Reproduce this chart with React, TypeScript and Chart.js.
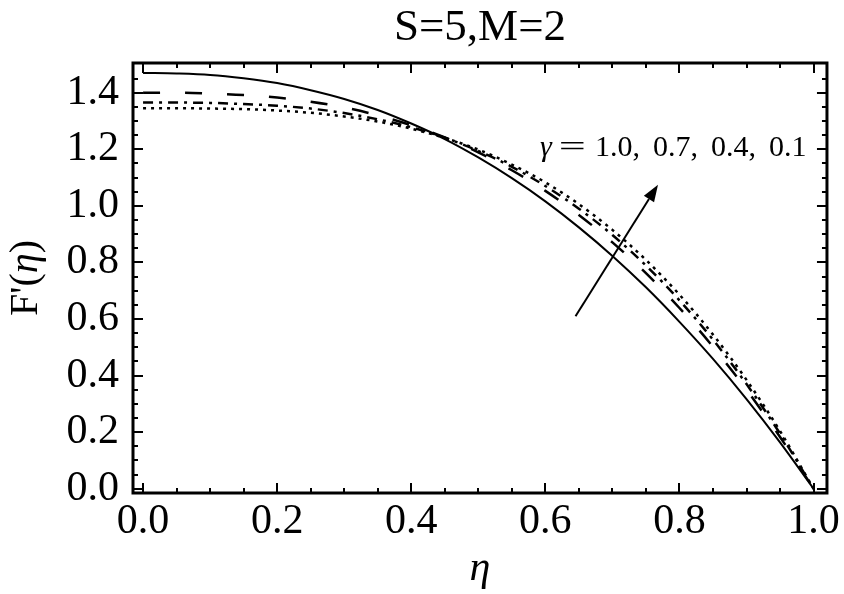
import React, { useEffect, useRef } from 'react';
import { Chart, registerables } from 'chart.js';

Chart.register(...registerables);

// ---- data ----
const eta = [0, 0.05, 0.1, 0.15, 0.2, 0.25, 0.3, 0.35, 0.4, 0.45, 0.5, 0.55, 0.6, 0.65, 0.7, 0.75, 0.8, 0.85, 0.9, 0.95, 1.0];
const fGamma10 = [1.47, 1.468, 1.463, 1.451, 1.434, 1.409, 1.378, 1.339, 1.291, 1.236, 1.171, 1.098, 1.016, 0.924, 0.823, 0.712, 0.59, 0.459, 0.317, 0.164, 0];
const fGamma07 = [1.40, 1.40, 1.397, 1.392, 1.383, 1.368, 1.348, 1.32, 1.285, 1.242, 1.189, 1.126, 1.053, 0.968, 0.871, 0.762, 0.639, 0.502, 0.35, 0.183, 0];
const fGamma04 = [1.365, 1.365, 1.364, 1.36, 1.354, 1.344, 1.328, 1.306, 1.278, 1.241, 1.194, 1.138, 1.07, 0.99, 0.897, 0.789, 0.666, 0.527, 0.37, 0.195, 0];
const fGamma01 = [1.345, 1.345, 1.344, 1.342, 1.337, 1.329, 1.316, 1.298, 1.273, 1.24, 1.199, 1.146, 1.083, 1.006, 0.915, 0.809, 0.686, 0.545, 0.385, 0.204, 0];

const xTickValues = [0, 0.2, 0.4, 0.6, 0.8, 1.0];
const xTickLabels = ['0.0', '0.2', '0.4', '0.6', '0.8', '1.0'];
const xMinorTicks = [0.05, 0.1, 0.15, 0.25, 0.3, 0.35, 0.45, 0.5, 0.55, 0.65, 0.7, 0.75, 0.85, 0.9, 0.95];
const yTickValues = [0, 0.2, 0.4, 0.6, 0.8, 1.0, 1.2, 1.4];
const yTickLabels = ['0.0', '0.2', '0.4', '0.6', '0.8', '1.0', '1.2', '1.4'];
const yMinorTicks = [0.05, 0.1, 0.15, 0.25, 0.3, 0.35, 0.45, 0.5, 0.55, 0.65, 0.7, 0.75, 0.85, 0.9, 0.95, 1.05, 1.1, 1.15, 1.25, 1.3, 1.35, 1.45];

const titleText = 'S=5,M=2';
const xTitle = 'η';
const yTitleParts = ["F'(", 'η', ')'];
const gammaSymbol = 'γ';
const gammaValues = ['1.0,', '0.7,', '0.4,', '0.1'];
const arrowStart = { x: 0.645, y: 0.61 };
const arrowEnd = { x: 0.768, y: 1.075 };
const gammaLabelAnchor = { x: 0.592, y: 1.175 };

const SERIF = '"Liberation Serif", "DejaVu Serif", serif';

const decorPlugin = {
  id: 'decor',
  afterDraw(chart: any) {
    const { ctx, chartArea } = chart;
    const xs = chart.scales.x;
    const ys = chart.scales.y;
    const { left, right, top, bottom } = chartArea;
    ctx.save();
    ctx.strokeStyle = '#000';
    ctx.fillStyle = '#000';
    ctx.lineCap = 'butt';

    // inward ticks on all four sides
    const majorLen = 10;
    const minorLen = 5;
    ctx.lineWidth = 2;
    const xTick = (v: number, len: number) => {
      const p = Math.round(xs.getPixelForValue(v));
      ctx.beginPath();
      ctx.moveTo(p, bottom);
      ctx.lineTo(p, bottom - len);
      ctx.moveTo(p, top);
      ctx.lineTo(p, top + len);
      ctx.stroke();
    };
    const yTick = (v: number, len: number) => {
      const p = Math.round(ys.getPixelForValue(v));
      ctx.beginPath();
      ctx.moveTo(left, p);
      ctx.lineTo(left + len, p);
      ctx.moveTo(right, p);
      ctx.lineTo(right - len, p);
      ctx.stroke();
    };
    xTickValues.forEach((v) => xTick(v, majorLen));
    xMinorTicks.forEach((v) => xTick(v, minorLen));
    yTickValues.forEach((v) => yTick(v, majorLen));
    yMinorTicks.forEach((v) => yTick(v, minorLen));

    // frame
    ctx.lineWidth = 3;
    ctx.strokeRect(left, top, right - left, bottom - top);

    // arrow
    const ax0 = xs.getPixelForValue(arrowStart.x);
    const ay0 = ys.getPixelForValue(arrowStart.y);
    const ax1 = xs.getPixelForValue(arrowEnd.x);
    const ay1 = ys.getPixelForValue(arrowEnd.y);
    const ang = Math.atan2(ay1 - ay0, ax1 - ax0);
    const headLen = 17;
    const headW = 6;
    const bx = ax1 - headLen * Math.cos(ang);
    const by = ay1 - headLen * Math.sin(ang);
    ctx.lineWidth = 2;
    ctx.beginPath();
    ctx.moveTo(ax0, ay0);
    ctx.lineTo(bx, by);
    ctx.stroke();
    ctx.beginPath();
    ctx.moveTo(ax1, ay1);
    ctx.lineTo(bx + headW * Math.sin(ang), by - headW * Math.cos(ang));
    ctx.lineTo(bx - headW * Math.sin(ang), by + headW * Math.cos(ang));
    ctx.closePath();
    ctx.fill();

    // gamma label
    let gx = xs.getPixelForValue(gammaLabelAnchor.x);
    const gy = ys.getPixelForValue(gammaLabelAnchor.y);
    ctx.textBaseline = 'alphabetic';
    ctx.textAlign = 'left';
    ctx.font = `italic 30px ${SERIF}`;
    ctx.fillText(gammaSymbol, gx, gy);
    gx += ctx.measureText(gammaSymbol).width + 7;
    ctx.font = `30px ${SERIF}`;
    ctx.save();
    ctx.translate(gx, gy);
    ctx.scale(1.6, 1);
    ctx.fillText('=', 0, 0);
    ctx.restore();
    gx += ctx.measureText('=').width * 1.6 + 9;
    gammaValues.forEach((s) => {
      ctx.fillText(s, gx, gy);
      gx += ctx.measureText(s).width + 13;
    });

    // y-axis title with italic eta
    ctx.save();
    ctx.translate(26, (top + bottom) / 2);
    ctx.rotate(-Math.PI / 2);
    ctx.textBaseline = 'middle';
    const fonts = [`40px ${SERIF}`, `italic 40px ${SERIF}`, `40px ${SERIF}`];
    let total = 0;
    yTitleParts.forEach((p, i) => { ctx.font = fonts[i]; total += ctx.measureText(p).width; });
    let tx = -total / 2;
    yTitleParts.forEach((p, i) => {
      ctx.font = fonts[i];
      ctx.fillText(p, tx, 0);
      tx += ctx.measureText(p).width;
    });
    ctx.restore();

    // title
    ctx.font = `45px ${SERIF}`;
    ctx.textAlign = 'center';
    ctx.textBaseline = 'alphabetic';
    ctx.fillText(titleText, (left + right) / 2, 40);
    ctx.restore();
  },
};

export default function App() {
  const ref = useRef<HTMLCanvasElement | null>(null);
  useEffect(() => {
    if (!ref.current) return;
    const mk = (data: number[]) => eta.map((x, i) => ({ x, y: data[i] }));
    const chart = new Chart(ref.current, {
      type: 'line',
      data: {
        datasets: [
          { label: 'γ=1.0', data: mk(fGamma10), borderColor: '#000', borderWidth: 2, pointRadius: 0, cubicInterpolationMode: 'monotone' },
          { label: 'γ=0.7', data: mk(fGamma07), borderColor: '#000', borderWidth: 2.5, borderDash: [17, 25], pointRadius: 0, cubicInterpolationMode: 'monotone' },
          { label: 'γ=0.4', data: mk(fGamma04), borderColor: '#000', borderWidth: 2.5, borderDash: [10, 6, 3, 6], pointRadius: 0, cubicInterpolationMode: 'monotone' },
          { label: 'γ=0.1', data: mk(fGamma01), borderColor: '#000', borderWidth: 2.5, borderDash: [3, 5], pointRadius: 0, cubicInterpolationMode: 'monotone' },
        ],
      },
      options: {
        animation: false,
        responsive: false,
        layout: { padding: { top: 63, right: 10, left: 0, bottom: 0 } },
        plugins: { legend: { display: false }, title: { display: false }, tooltip: { enabled: false } },
        scales: {
          x: {
            type: 'linear',
            min: -0.015,
            max: 1.02,
            grid: { display: false, drawTicks: false },
            border: { display: false },
            afterBuildTicks: (s: any) => { s.ticks = xTickValues.map((v) => ({ value: v })); },
            afterFit: (s: any) => { s.height = 101; },
            ticks: {
              color: '#000',
              padding: 4,
              autoSkip: false,
              maxRotation: 0,
              font: { family: SERIF, size: 42 },
              callback: (_v: any, i: number) => xTickLabels[i],
            },
            title: { display: true, text: xTitle, color: '#000', padding: 0, font: { family: SERIF, size: 42, style: 'italic' } },
          },
          y: {
            type: 'linear',
            min: -0.015,
            max: 1.505,
            grid: { display: false, drawTicks: false },
            border: { display: false },
            afterBuildTicks: (s: any) => { s.ticks = yTickValues.map((v) => ({ value: v })); },
            afterFit: (s: any) => { s.width = 133; },
            ticks: {
              color: '#000',
              padding: 14,
              autoSkip: false,
              font: { family: SERIF, size: 42 },
              callback: (_v: any, i: number) => yTickLabels[i],
            },
            title: { display: false },
          },
        },
      },
      plugins: [decorPlugin],
    } as any);
    return () => chart.destroy();
  }, []);
  return (
    <div style={{ position: 'absolute', left: 0, top: 0, width: 844, height: 594, background: '#fff' }}>
      <canvas ref={ref} width={844} height={594} />
    </div>
  );
}
